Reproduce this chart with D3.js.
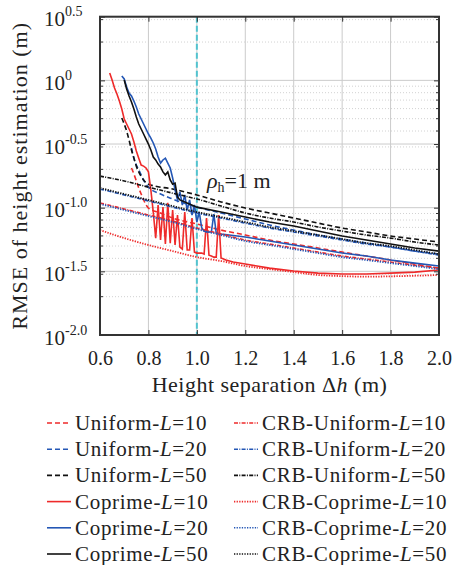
<!DOCTYPE html>
<html>
<head>
<meta charset="utf-8">
<script src="https://d3js.org/d3.v7.min.js"></script>
<style>
  body { margin: 0; background: #fff; }
  text { font-family: "Liberation Serif", "DejaVu Serif", serif; fill: #222; }
  .grid-major { stroke: #cbcbcb; stroke-width: 1; }
  .grid-minor { stroke: #d2d2d2; stroke-width: 1; stroke-dasharray: 1,2; }
  .axis path, .axis line { stroke: #333; }
</style>
</head>
<body>
<script>

// ---- data (RMSE in m vs height separation in m) ----
var hCrb = [0.6, 0.7, 0.8, 0.9, 1.0, 1.1, 1.2, 1.3, 1.4, 1.5, 1.6, 1.7, 1.8, 1.9, 2.0];
var crbUniform10 = [0.109, 0.0976, 0.0876, 0.0785, 0.0692, 0.0621, 0.0557, 0.0518, 0.0482, 0.0448, 0.0417, 0.0395, 0.0374, 0.0354, 0.0335];
var crbUniform20 = [0.140, 0.126, 0.113, 0.101, 0.0908, 0.0829, 0.0757, 0.0692, 0.0644, 0.0599, 0.0557, 0.0518, 0.0491, 0.0456, 0.0424];
var crbUniform50 = [0.177, 0.162, 0.145, 0.130, 0.117, 0.103, 0.0908, 0.0829, 0.0771, 0.0705, 0.0655, 0.0610, 0.0577, 0.0537, 0.0509];
var crbCoprime10 = [0.0667, 0.0577, 0.0509, 0.0456, 0.0409, 0.0381, 0.0348, 0.0329, 0.0312, 0.0296, 0.0290, 0.0287, 0.0289, 0.0292, 0.0296];
var crbCoprime20 = [0.107, 0.0958, 0.0860, 0.0771, 0.0680, 0.0610, 0.0547, 0.0509, 0.0473, 0.0440, 0.0409, 0.0388, 0.0367, 0.0348, 0.0329];
var crbCoprime50 = [0.143, 0.128, 0.115, 0.103, 0.0924, 0.0845, 0.0771, 0.0705, 0.0655, 0.0610, 0.0567, 0.0527, 0.0500, 0.0465, 0.0432];

var hUniform10 = [0.73, 0.74, 0.75, 0.76, 0.77, 0.8, 0.85, 0.9, 1.0, 1.1, 1.2, 1.3, 1.4, 1.5, 1.6, 1.7, 1.8, 1.9, 2.0];
var uniform10 = [0.205, 0.184, 0.162, 0.143, 0.128, 0.0994, 0.0908, 0.0829, 0.0744, 0.0667, 0.0610, 0.0557, 0.0518, 0.0482, 0.0448, 0.0417, 0.0388, 0.0361, 0.0335];

var hUniform20 = [0.73, 0.74, 0.75, 0.76, 0.78, 0.8, 0.85, 0.9, 1.0, 1.1, 1.2, 1.3, 1.4, 1.5, 1.6, 1.7, 1.8, 1.9, 2.0];
var uniform20 = [0.294, 0.245, 0.216, 0.198, 0.165, 0.145, 0.128, 0.117, 0.101, 0.0908, 0.0815, 0.0730, 0.0667, 0.0610, 0.0567, 0.0527, 0.0491, 0.0456, 0.0432];

var hUniform50 = [0.69, 0.70, 0.71, 0.72, 0.73, 0.74, 0.75, 0.76, 0.78, 0.8, 0.9, 1.0, 1.1, 1.2, 1.3, 1.4, 1.5, 1.6, 1.7, 1.8, 1.9, 2.0];
var uniform50 = [0.506, 0.454, 0.400, 0.340, 0.284, 0.245, 0.212, 0.191, 0.165, 0.153, 0.140, 0.126, 0.111, 0.0994, 0.0908, 0.0829, 0.0757, 0.0692, 0.0644, 0.0599, 0.0567, 0.0537];

var hCoprime10 = [0.64, 0.65, 0.66, 0.67, 0.68, 0.69, 0.70, 0.71, 0.72, 0.73, 0.74, 0.75, 0.76, 0.77, 0.78, 0.79,
  0.80, 0.81, 0.82, 0.83, 0.84, 0.85, 0.86, 0.87, 0.88, 0.89, 0.90, 0.91, 0.92, 0.93, 0.94, 0.95, 0.96, 0.97, 0.98, 0.99,
  1.00, 1.01, 1.02, 1.03, 1.04, 1.05, 1.06, 1.07, 1.08, 1.09, 1.10, 1.12, 1.15, 1.2, 1.3, 1.4, 1.5, 1.6, 1.7, 1.8, 1.9, 2.0];
var coprime10 = [1.142, 1.006, 0.871, 0.781, 0.688, 0.596, 0.497, 0.454, 0.415, 0.379, 0.328, 0.279, 0.245, 0.216, 0.212, 0.205,
  0.191, 0.138, 0.0924, 0.0577, 0.105, 0.0557, 0.101, 0.0518, 0.109, 0.0527, 0.0958, 0.0509, 0.0876, 0.0491, 0.0473, 0.0924, 0.0465, 0.0465, 0.0829, 0.0448,
  0.0440, 0.0440, 0.0440, 0.0432, 0.0829, 0.0424, 0.0417, 0.0409, 0.0409, 0.0876, 0.0402, 0.0388, 0.0374, 0.0361, 0.0335, 0.0318, 0.0306, 0.0301, 0.0301, 0.0306, 0.0312, 0.0324];

var hCoprime20 = [0.69, 0.70, 0.71, 0.72, 0.73, 0.74, 0.75, 0.76, 0.77, 0.78, 0.79, 0.80, 0.81, 0.82, 0.83, 0.84, 0.85, 0.86, 0.87, 0.88, 0.89,
  0.90, 0.91, 0.92, 0.93, 0.94, 0.95, 0.96, 0.97, 0.98, 0.99, 1.00, 1.01, 1.02, 1.03, 1.04, 1.05, 1.06, 1.07, 1.08,
  1.1, 1.2, 1.3, 1.4, 1.5, 1.6, 1.7, 1.8, 1.9, 2.0];
var coprime20 = [1.082, 1.025, 0.887, 0.796, 0.754, 0.688, 0.618, 0.544, 0.497, 0.454, 0.415, 0.379, 0.352, 0.322, 0.289, 0.250, 0.224, 0.237, 0.245, 0.224, 0.205,
  0.171, 0.138, 0.115, 0.133, 0.105, 0.126, 0.0958, 0.115, 0.0876, 0.105, 0.0771, 0.0924, 0.0692, 0.0655, 0.0644, 0.0644, 0.0644, 0.0892, 0.0632,
  0.0621, 0.0588, 0.0547, 0.0509, 0.0473, 0.0440, 0.0417, 0.0388, 0.0367, 0.0348];

var hCoprime50 = [0.70, 0.71, 0.72, 0.73, 0.74, 0.75, 0.76, 0.77, 0.78, 0.79, 0.80, 0.81, 0.82, 0.83, 0.84, 0.85, 0.86, 0.87, 0.88, 0.89,
  0.90, 0.91, 0.92, 0.93, 0.95, 1.0, 1.1, 1.2, 1.3, 1.4, 1.5, 1.6, 1.7, 1.8, 1.9, 2.0];
var coprime50 = [1.006, 0.855, 0.754, 0.676, 0.596, 0.515, 0.454, 0.415, 0.379, 0.346, 0.316, 0.284, 0.250, 0.237, 0.220, 0.209, 0.191, 0.181, 0.191, 0.165,
  0.153, 0.156, 0.121, 0.115, 0.111, 0.101, 0.0924, 0.0845, 0.0771, 0.0717, 0.0655, 0.0599, 0.0557, 0.0518, 0.0482, 0.0456];

var xTicks = [0.6, 0.8, 1.0, 1.2, 1.4, 1.6, 1.8, 2.0];
var yTickExp = [0.5, 0, -0.5, -1, -1.5, -2];
var yTickSup = ["0.5", "0", "-0.5", "-1.0", "-1.5", "-2.0"];

var red = "#ee2a2a", blue = "#2457b5", black = "#111";
var dashed = "5,3", dashdot = "4,1.3,1,1.3", dotted = "1.3,1.3";

var series = [
  { name: "Uniform", L: 10, h: hUniform10, v: uniform10, color: red, dash: dashed, smooth: true },
  { name: "Uniform", L: 20, h: hUniform20, v: uniform20, color: blue, dash: dashed, smooth: true },
  { name: "Uniform", L: 50, h: hUniform50, v: uniform50, color: black, dash: dashed, smooth: true },
  { name: "Coprime", L: 10, h: hCoprime10, v: coprime10, color: red, dash: null, smooth: false },
  { name: "Coprime", L: 20, h: hCoprime20, v: coprime20, color: blue, dash: null, smooth: false },
  { name: "Coprime", L: 50, h: hCoprime50, v: coprime50, color: black, dash: null, smooth: false },
  { name: "CRB-Uniform", L: 10, h: hCrb, v: crbUniform10, color: red, dash: dashdot, smooth: true },
  { name: "CRB-Uniform", L: 20, h: hCrb, v: crbUniform20, color: blue, dash: dashdot, smooth: true },
  { name: "CRB-Uniform", L: 50, h: hCrb, v: crbUniform50, color: black, dash: dashdot, smooth: true },
  { name: "CRB-Coprime", L: 10, h: hCrb, v: crbCoprime10, color: red, dash: dotted, smooth: true },
  { name: "CRB-Coprime", L: 20, h: hCrb, v: crbCoprime20, color: blue, dash: dotted, smooth: true },
  { name: "CRB-Coprime", L: 50, h: hCrb, v: crbCoprime50, color: black, dash: dotted, smooth: true }
];

var width = 452, height = 565;
var pLeft = 100, pRight = 439, pTop = 16.7, pBottom = 335;

var svg = d3.select("body").append("svg")
  .attr("width", width)
  .attr("height", height);

var x = d3.scaleLinear().domain([0.6, 2.0]).range([pLeft, pRight]);
var y = d3.scaleLog().domain([0.01, Math.pow(10, 0.5)]).range([pBottom, pTop]);

// minor log values
var yMinor = [];
[-2, -1, 0].forEach(function(d) {
  for (var m = 2; m <= 9; m++) {
    var val = m * Math.pow(10, d);
    if (val < Math.pow(10, 0.5)) yMinor.push(val);
  }
});
var yMajor = yTickExp.map(function(e) { return Math.pow(10, e); });

// grid
svg.append("g").selectAll("line")
  .data(yMinor).enter().append("line")
  .attr("class", "grid-minor")
  .attr("x1", pLeft).attr("x2", pRight)
  .attr("y1", function(d) { return y(d); })
  .attr("y2", function(d) { return y(d); });

svg.append("g").selectAll("line")
  .data(yMajor).enter().append("line")
  .attr("class", "grid-major")
  .attr("x1", pLeft).attr("x2", pRight)
  .attr("y1", function(d) { return y(d); })
  .attr("y2", function(d) { return y(d); });

svg.append("g").selectAll("line")
  .data(xTicks).enter().append("line")
  .attr("class", "grid-major")
  .attr("x1", function(d) { return x(d); })
  .attr("x2", function(d) { return x(d); })
  .attr("y1", pTop).attr("y2", pBottom);

// rho_h marker
svg.append("line")
  .attr("x1", x(1.0)).attr("x2", x(1.0))
  .attr("y1", pTop).attr("y2", pBottom)
  .attr("stroke", "#52c3cf")
  .attr("stroke-width", 2)
  .attr("stroke-dasharray", "6,3");

// curves
svg.append("clipPath").attr("id", "clip")
  .append("rect").attr("x", pLeft).attr("y", pTop)
  .attr("width", pRight - pLeft).attr("height", pBottom - pTop);

var plot = svg.append("g").attr("clip-path", "url(#clip)");

series.forEach(function(s) {
  var pts = s.h.map(function(h, i) { return [h, s.v[i]]; });
  var line = d3.line()
    .x(function(d) { return x(d[0]); })
    .y(function(d) { return y(d[1]); })
    .curve(s.smooth ? d3.curveMonotoneX : d3.curveLinear);
  plot.append("path")
    .datum(pts)
    .attr("fill", "none")
    .attr("stroke", s.color)
    .attr("stroke-width", s.dash === dotted ? 1.8 : 1.6)
    .attr("stroke-dasharray", s.dash)
    .attr("d", line);
});

// axes
var xAxis = d3.axisBottom(x).tickValues(xTicks).tickSize(-5).tickPadding(16)
  .tickFormat(d3.format(".1f"));
svg.append("g").attr("class", "axis")
  .attr("transform", "translate(0," + pBottom + ")")
  .call(xAxis)
  .call(function(g) {
    g.select(".domain").remove();
    g.selectAll("text").attr("font-size", 20).attr("fill", "#222")
      .attr("font-family", "Liberation Serif, serif");
  });

svg.append("g").attr("class", "axis")
  .attr("transform", "translate(0," + pTop + ")")
  .call(d3.axisTop(x).tickValues(xTicks).tickSize(-5).tickFormat(""))
  .call(function(g) { g.select(".domain").remove(); });

svg.append("g").attr("class", "axis")
  .attr("transform", "translate(" + pLeft + ",0)")
  .call(d3.axisLeft(y).tickValues(yMajor).tickSize(-5).tickFormat(""))
  .call(function(g) { g.select(".domain").remove(); });

svg.append("g").attr("class", "axis")
  .attr("transform", "translate(" + pRight + ",0)")
  .call(d3.axisRight(y).tickValues(yMajor).tickSize(-5).tickFormat(""))
  .call(function(g) { g.select(".domain").remove(); });

// minor ticks
[pLeft, pRight].forEach(function(px) {
  var dir = px === pLeft ? 1 : -1;
  svg.append("g").selectAll("line")
    .data(yMinor).enter().append("line")
    .attr("x1", px).attr("x2", px + dir * 3)
    .attr("y1", function(d) { return y(d); })
    .attr("y2", function(d) { return y(d); })
    .attr("stroke", "#333");
});

// frame
svg.append("rect")
  .attr("x", pLeft).attr("y", pTop)
  .attr("width", pRight - pLeft).attr("height", pBottom - pTop)
  .attr("fill", "none")
  .attr("stroke", "#333")
  .attr("stroke-width", 2);

// y tick labels 10^k
var yLab = svg.append("g").selectAll("text")
  .data(yTickExp).enter().append("text")
  .attr("x", 44)
  .attr("y", function(d) { return y(Math.pow(10, d)) + 9.5; })
  .attr("font-size", 21);
yLab.append("tspan").text("10");
yLab.append("tspan")
  .attr("font-size", 14)
  .attr("dy", -10)
  .text(function(d, i) { return yTickSup[i]; });

// axis titles
svg.append("text")
  .attr("x", (pLeft + pRight) / 2)
  .attr("y", 392)
  .attr("text-anchor", "middle")
  .attr("font-size", 22)
  .attr("letter-spacing", 0.5)
  .call(function(t) {
    t.append("tspan").text("Height separation Δ");
    t.append("tspan").attr("font-style", "italic").text("h");
    t.append("tspan").text(" (m)");
  });

svg.append("text")
  .attr("transform", "translate(27," + (pTop + pBottom) / 2 + ") rotate(-90)")
  .attr("text-anchor", "middle")
  .attr("font-size", 22)
  .attr("letter-spacing", 1)
  .text("RMSE of height estimation (m)");

// rho_h annotation
svg.append("text")
  .attr("x", 207).attr("y", 188)
  .attr("font-size", 22)
  .call(function(t) {
    t.append("tspan").attr("font-style", "italic").text("ρ");
    t.append("tspan").attr("font-size", 14).attr("dy", 4).text("h");
    t.append("tspan").attr("dy", -4).text("=1 m");
  });

// legend
var legend = svg.append("g");
series.forEach(function(s, i) {
  var col = i < 6 ? 0 : 1;
  var row = i % 6;
  var cy = 423 + row * 26.2;
  var x0 = col === 0 ? 47 : 234;
  legend.append("line")
    .attr("x1", x0).attr("x2", x0 + 24)
    .attr("y1", cy).attr("y2", cy)
    .attr("stroke", s.color)
    .attr("stroke-width", 1.6)
    .attr("stroke-dasharray", s.dash);
  var t = legend.append("text")
    .attr("x", x0 + 28).attr("y", cy + 7)
    .attr("font-size", 21)
    .attr("letter-spacing", 0.7);
  t.append("tspan").text(s.name + "-");
  t.append("tspan").attr("font-style", "italic").text("L");
  t.append("tspan").text("=" + s.L);
});

</script>
</body>
</html>
